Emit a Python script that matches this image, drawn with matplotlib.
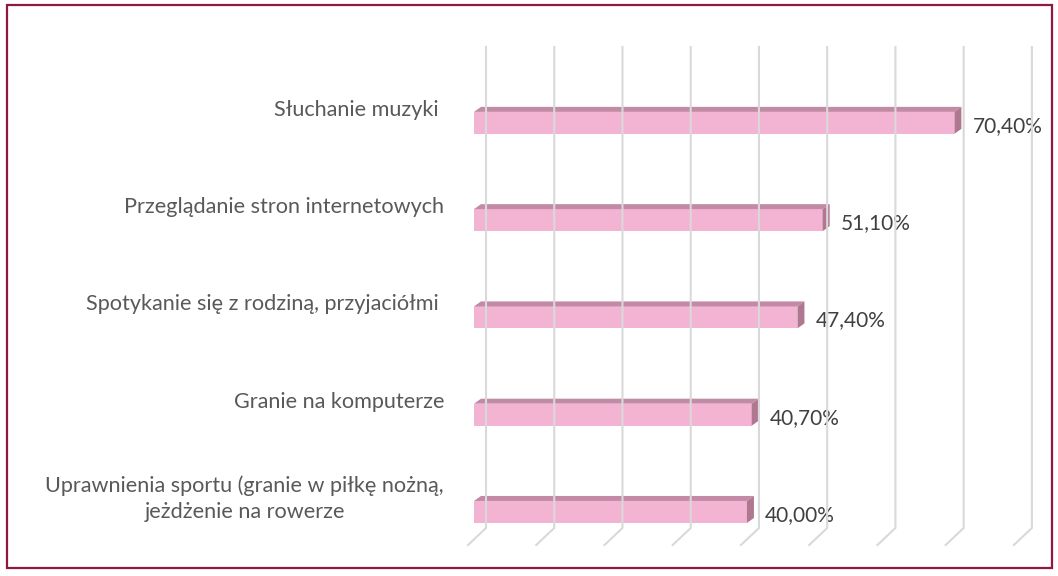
import numpy as np
import matplotlib as mpl
mpl.use('Agg')
import matplotlib.pyplot as plt
from matplotlib.patches import Polygon, Rectangle
from matplotlib.lines import Line2D

plt.rcParams['font.family'] = ['Lato', 'DejaVu Sans']

categories = ["Słuchanie muzyki ",
              "Przeglądanie stron internetowych",
              "Spotykanie się z rodziną, przyjaciółmi ",
              "Granie na komputerze",
              "Uprawnienia sportu (granie w piłkę nożną,\njeżdżenie na rowerze"]
values = [70.4, 51.1, 47.4, 40.7, 40.0]
value_labels = ["70,40%", "51,10%", "47,40%", "40,70%", "40,00%"]
grid_ticks = [0, 10, 20, 30, 40, 50, 60, 70, 80]

FRONT = "#F3B4D4"
TOP = "#C28AA4"
SIDE = "#B07890"
GRID = "#D9D9D9"

W, H = 1058, 576
fig = plt.figure(figsize=(W / 100, H / 100), dpi=100)

# axes placed in pixels: x=0 at 474px, bar rows from 47px to 528px
ax = fig.add_axes([474 / W, 1 - 528 / H, 580 / W, 481 / H])
ax.set_xlim(0, 85)
ax.set_ylim(4.165, -0.78)
ax.axis('off')

fig.canvas.draw()
bbox = ax.get_window_extent()
ux = 85 / bbox.width          # data units per pixel (x)
uy = (4.165 + 0.78) / bbox.height  # data units per pixel (y)

# back wall gridlines, shifted by depth, with floor diagonals
gx, dx_floor, dy_floor = 12, -18, -17
for t in grid_ticks:
    px = ax.transData.transform((t, 0))[0] + gx
    top = bbox.y1
    bot = bbox.y0
    fig.lines.append(Line2D([px, px, px + dx_floor], [top, bot, bot + dy_floor],
                            transform=None, color=GRID, lw=1.5,
                            solid_joinstyle='miter', zorder=0))

# 3d-ish bars
bar_h = 22 * uy
ddx, ddy = 7 * ux, 5 * uy
for i, v in enumerate(values):
    y0 = i - bar_h / 2
    y1 = i + bar_h / 2
    ax.barh(i, v, height=bar_h, left=0, color=FRONT, zorder=3)
    ax.add_patch(Polygon([(0, y0), (v, y0), (v + ddx, y0 - ddy), (ddx, y0 - ddy)],
                         closed=True, color=TOP, zorder=3, lw=0))
    ax.add_patch(Polygon([(v, y0), (v + ddx, y0 - ddy), (v + ddx, y1 - ddy), (v, y1)],
                         closed=True, color=SIDE, zorder=3, lw=0))
    ax.annotate(value_labels[i], xy=(v, i), xytext=(18, -3),
                textcoords='offset pixels', ha='left', va='center',
                fontsize=15, color="#404040", annotation_clip=False)
    ax.annotate(categories[i], xy=(0, i), xytext=(-30, 13),
                textcoords='offset pixels', ha='right', va='center',
                multialignment='center', fontsize=15.6, color="#595959",
                annotation_clip=False, linespacing=1.4)

# outer frame
fig.patches.append(Rectangle((7, 8), 1045, 563, transform=None, fill=False,
                             edgecolor="#8E1B3D", lw=1.6))

fig.savefig("out.png", dpi=100)
